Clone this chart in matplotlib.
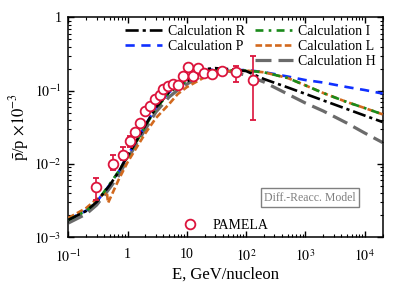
import matplotlib
matplotlib.use("Agg")
import matplotlib.pyplot as plt
from matplotlib.lines import Line2D
from matplotlib.ticker import NullFormatter, LogLocator

plt.rcParams["font.family"] = ["Liberation Serif", "DejaVu Serif"]
plt.rcParams["mathtext.fontset"] = "stix"

# ---- model curves (E in GeV/nucleon, pbar/p) ----
E_grid = [0.1, 0.2, 0.3, 0.5, 0.7, 1, 1.5, 2, 3, 5, 7, 10, 20, 30, 50,
          100, 200, 500, 1000, 2000, 5000, 1e4, 2e4]

calc_R = [1.72e-3, 2.28e-3, 3.02e-3, 5.15e-3, 7.75e-3, 1.30e-2, 2.26e-2, 3.39e-2,
          5.88e-2, 9.57e-2, 0.1156, 0.1327, 0.197, 0.203, 0.197,
          0.185, 0.144, 0.1108, 0.0903, 0.0735, 0.0561, 0.0457, 0.0373]

calc_P = [1.75e-3, 2.30e-3, 3.05e-3, 5.20e-3, 7.80e-3, 1.31e-2, 2.27e-2, 3.40e-2,
          5.90e-2, 9.50e-2, 0.115, 0.132, 0.190, 0.195, 0.191,
          0.191, 0.179, 0.156, 0.1395, 0.129, 0.112, 0.102, 0.0913]

calc_I = [1.72e-3, 2.28e-3, 3.02e-3, 5.32e-3, 7.87e-3, 1.24e-2, 2.19e-2, 3.29e-2,
          5.70e-2, 9.28e-2, 0.1156, 0.135, 0.179, 0.190, 0.190,
          0.188, 0.178, 0.149, 0.118, 0.0928, 0.0699, 0.0579, 0.0475]

calc_H = [1.56e-3, 2.07e-3, 2.75e-3, 4.69e-3, 6.84e-3, 1.17e-2, 2.05e-2, 2.99e-2,
          5.11e-2, 8.18e-2, 0.1019, 0.123, 0.168, 0.185, 0.185,
          0.163, 0.131, 0.0899, 0.0677, 0.0527, 0.0361, 0.0264, 0.0196]

E_L = [0.1, 0.2, 0.3, 0.445, 0.467, 0.7, 1, 1.5, 2, 3, 5, 7, 10, 20, 30, 50,
       100, 200, 500, 1000, 2000, 5000, 1e4, 2e4]
calc_L = [1.83e-3, 2.50e-3, 3.32e-3, 4.18e-3, 2.93e-3, 6.03e-3, 1.06e-2, 1.81e-2,
          2.64e-2, 4.23e-2, 6.56e-2, 8.99e-2, 0.112, 0.153, 0.174, 0.185,
          0.188, 0.178, 0.149, 0.118, 0.0928, 0.0699, 0.0579, 0.0475]

# ---- PAMELA data ----
E_pam = [0.293, 0.574, 0.826, 1.077, 1.33, 1.62, 1.96, 2.39, 2.90, 3.45, 4.00,
         4.80, 5.78, 7.08, 8.53, 10.4, 12.5, 15.2, 19.6, 26.2, 38.6, 68.1, 132]
r_pam = [4.84e-3, 9.88e-3, 1.32e-2, 2.03e-2, 2.75e-2, 3.65e-2, 5.32e-2, 6.22e-2,
         7.61e-2, 8.71e-2, 0.104, 0.117, 0.122, 0.121, 0.157, 0.209, 0.158,
         0.205, 0.175, 0.167, 0.185, 0.178, 0.142]
r_pam_hi = [6.42e-3, 1.32e-2, 1.70e-2, 2.40e-2, 2.95e-2, 3.90e-2, 5.65e-2, 6.60e-2,
            8.05e-2, 9.20e-2, 0.110, 0.124, 0.130, 0.129, 0.168, 0.224, 0.170,
            0.222, 0.190, 0.182, 0.203, 0.220, 0.297]
r_pam_lo = [3.22e-3, 8.39e-3, 1.13e-2, 1.70e-2, 2.55e-2, 3.40e-2, 5.00e-2, 5.85e-2,
            7.20e-2, 8.25e-2, 0.098, 0.110, 0.114, 0.113, 0.146, 0.194, 0.146,
            0.188, 0.160, 0.152, 0.167, 0.133, 0.0403]

red = "#dc143c"

fig = plt.figure(figsize=(4.07, 2.95), dpi=100)
ax = fig.add_axes([0.168, 0.196, 0.772, 0.745])

lw = 1.9
lR, = ax.plot(E_grid, calc_R, color="black", lw=lw, ls=(0, (5, 1.5, 1.2, 1.5)), zorder=6,
              label="Calculation R")
lP, = ax.plot(E_grid, calc_P, color="#1030ff", lw=lw, ls=(0, (3.5, 2.5)), zorder=3,
              label="Calculation P")
lI, = ax.plot(E_grid, calc_I, color="#1a8a1a", lw=lw, ls=(0, (3, 2, 1, 2)), zorder=5,
              label="Calculation I")
lL, = ax.plot(E_L, calc_L, color="#d2691e", lw=lw, ls=(0, (2.5, 1.2)), zorder=4,
              label="Calculation L")
lH, = ax.plot(E_grid, calc_H, color="#6b6b6b", lw=2.3, ls=(0, (5, 2.2)), zorder=2,
              label="Calculation H")

yerr = [[r - lo for r, lo in zip(r_pam, r_pam_lo)],
        [hi - r for r, hi in zip(r_pam, r_pam_hi)]]
ax.errorbar(E_pam, r_pam, yerr=yerr, fmt="o", color=red, mfc="white", mec=red,
            ms=7, mew=1.3, elinewidth=1.2, capsize=2.2, capthick=1.2, zorder=8)

ax.set_xscale("log")
ax.set_yscale("log")
ax.set_xlim(0.1, 2e4)
ax.set_ylim(1e-3, 1)

ax.set_xticks([0.1, 1, 10, 100, 1e3, 1e4])
ax.set_xticklabels([r"$10^{-1}$", "1", "10", r"$10^{2}$", r"$10^{3}$", r"$10^{4}$"])
ax.set_yticks([1e-3, 1e-2, 1e-1, 1])
ax.set_yticklabels([r"$10^{-3}$", r"$10^{-2}$", r"$10^{-1}$", "1"])
ax.xaxis.set_minor_locator(LogLocator(base=10, subs=range(2, 10), numticks=20))
ax.yaxis.set_minor_locator(LogLocator(base=10, subs=range(2, 10), numticks=20))
ax.xaxis.set_minor_formatter(NullFormatter())
ax.yaxis.set_minor_formatter(NullFormatter())
ax.tick_params(which="both", direction="in", top=True, right=True, labelsize=10)
ax.tick_params(which="major", length=4, width=1)
ax.tick_params(which="minor", length=2.2, width=0.8)
ax.tick_params(axis="x", which="major", pad=8)
ax.tick_params(axis="y", which="major", pad=5)
for s in ax.spines.values():
    s.set_linewidth(1.1)

ax.set_xlabel("E, GeV/nucleon", fontsize=12, labelpad=1)
ax.set_ylabel(r"$\bar{\rm p}$/p $\times 10^{-3}$", fontsize=12, labelpad=2)

blank = Line2D([], [], alpha=0)
leg1 = ax.legend([lR, lP, blank, lI, lL, lH],
                 ["Calculation R", "Calculation P", "", "Calculation I",
                  "Calculation L", "Calculation H"],
                 ncol=2, loc="upper left", bbox_to_anchor=(0.18, 0.965),
                 frameon=False, fontsize=10, handlelength=2.7, handletextpad=0.4,
                 columnspacing=0.75, labelspacing=0.15, borderpad=0, borderaxespad=0)
ax.add_artist(leg1)

pam_handle = Line2D([], [], marker="o", ls="none", color=red, mfc="white",
                    mec=red, ms=7, mew=1.3)
ax.legend([pam_handle], ["PAMELA"], loc="center", bbox_to_anchor=(0.49, 0.052),
          frameon=False, fontsize=10, handletextpad=0.6, borderpad=0,
          borderaxespad=0)

ax.text(0.769, 0.179, "Diff.-Reacc. Model", transform=ax.transAxes, fontsize=8.5,
        color="#808080", ha="center", va="center", zorder=9,
        bbox=dict(boxstyle="square,pad=0.3", fc="white", ec="#808080", lw=1))

fig.savefig("out.png", dpi=100)
